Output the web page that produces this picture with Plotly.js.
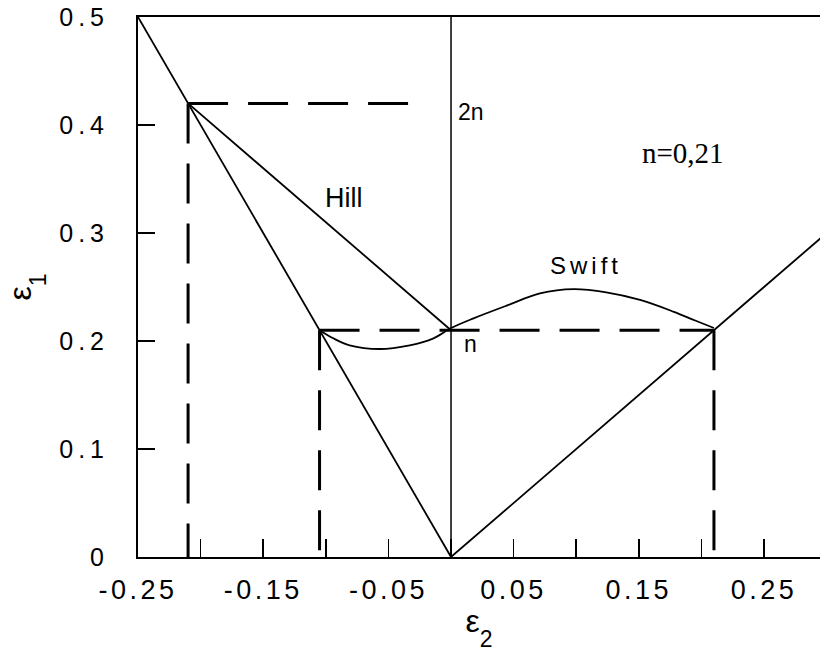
<!DOCTYPE html>
<html>
<head>
<meta charset="utf-8">
<script src="https://cdn.plot.ly/plotly-3.0.1.min.js"></script>
<style>
  html, body { margin: 0; padding: 0; background: #fff; overflow: hidden; }
  #chart { width: 820px; height: 652px; }
  .xtick text { letter-spacing: 3.5px; }
  .ytick text { letter-spacing: 5px; }
  .annotation[data-index="1"] text { letter-spacing: 4px; }
</style>
</head>
<body>
<div id="chart"></div>
<script>
// ---- data ----
const xTickVals = [-0.25, -0.15, -0.05, 0.05, 0.15, 0.25];
const xTickText = ['-0.25', '-0.15', '-0.05', '0.05', '0.15', '0.25'];
const xMinorTickVals = [-0.2, -0.1, 0, 0.1, 0.2];
const yTickVals = [0, 0.1, 0.2, 0.3, 0.4, 0.5];
const yTickText = ['0', '0.1', '0.2', '0.3', '0.4', '0.5'];
const xTitle = 'ε<span style="font-size:23px;baseline-shift:-15px">2</span>';
const yTitle = 'ε<span style="font-size:23px;baseline-shift:-15px">1</span>';

// limit line e1 = -2 e2 (left branch)
const leftX = [-0.25, 0];
const leftY = [0.5, 0];
// limit line e1 = e2 (right branch)
const rightX = [0, 0.30];
const rightY = [0, 0.30];
// Hill criterion
const hillX = [-0.21, 0];
const hillY = [0.42, 0.21];
// Swift criterion
const swiftX = [-0.105, -0.094, -0.081, -0.057, -0.033, -0.014, 0, 0.018, 0.045, 0.071, 0.098, 0.124, 0.151, 0.178, 0.195, 0.21];
const swiftY = [0.21, 0.2025, 0.196, 0.1926, 0.196, 0.2025, 0.212, 0.221, 0.233, 0.244, 0.248, 0.245, 0.238, 0.227, 0.219, 0.212];
// e2 = 0 line
const zeroX = [0, 0];
const zeroY = [0, 0.5];
// dashed guide lines
const guide2nX = [-0.21, -0.024];
const guide2nY = [0.42, 0.42];
const guide2nVX = [-0.21, -0.21];
const guide2nVY = [0.42, 0];
const guideNX = [-0.105, 0.21];
const guideNY = [0.21, 0.21];
const guideNLeftVX = [-0.105, -0.105];
const guideNLeftVY = [0.21, 0];
const guideNRightVX = [0.21, 0.21];
const guideNRightVY = [0.21, 0];

// labels
const labelText = ['Hill', 'Swift', '2n', 'n', 'n=0,21'];
const labelX = [-0.0855, 0.108, 0.004, 0.009, 0.185];
const labelY = [0.332, 0.270, 0.412, 0.197, 0.374];

// ---- drawing ----
const solid = {color: '#000', width: 1.8};
const dashed = {color: '#000', width: 3, dash: '40px,20px'};
function tr(x, y, line) {
  return {x: x, y: y, type: 'scatter', mode: 'lines', line: line, hoverinfo: 'skip', showlegend: false};
}
const swiftLine = Object.assign({}, solid, {shape: 'spline', smoothing: 1});

const data = [
  tr(zeroX, zeroY, {color: '#000', width: 1.5}),
  tr(leftX, leftY, solid),
  tr(rightX, rightY, solid),
  tr(hillX, hillY, solid),
  tr(swiftX, swiftY, swiftLine),
  tr(guide2nX, guide2nY, dashed),
  tr(guide2nVX, guide2nVY, dashed),
  tr(guideNX, guideNY, dashed),
  tr(guideNLeftVX, guideNLeftVY, dashed),
  tr(guideNRightVX, guideNRightVY, dashed)
];

const sans = 'Liberation Sans, Arial, sans-serif';
const annFonts = [
  {family: sans, size: 27, color: '#000'},
  {family: sans, size: 24, color: '#000'},
  {family: sans, size: 23, color: '#000'},
  {family: sans, size: 23, color: '#000'},
  {family: 'Liberation Serif, Times New Roman, serif', size: 29, color: '#000'}
];
const annAnchor = ['center', 'center', 'left', 'left', 'center'];
const annotations = labelText.map((t, i) => ({
  x: labelX[i], y: labelY[i], xref: 'x', yref: 'y', text: t, showarrow: false,
  xanchor: annAnchor[i], yanchor: 'middle', font: annFonts[i]
}));

const titleFont = {family: sans, size: 32, color: '#000'};

const layout = {
  width: 820, height: 652,
  margin: {l: 138, r: 0, t: 17, b: 95},
  paper_bgcolor: '#fff', plot_bgcolor: '#fff',
  showlegend: false,
  xaxis: {
    range: [-0.25, 0.2947],
    tickmode: 'array', tickvals: xTickVals, ticktext: xTickText,
    ticks: 'inside', ticklen: 18, tickwidth: 1.5, tickcolor: '#000',
    minor: {tickmode: 'array', tickvals: xMinorTickVals, ticks: 'inside', ticklen: 18, tickwidth: 1.5, tickcolor: '#000', showgrid: false},
    showgrid: false, zeroline: false,
    showline: true, linecolor: '#000', linewidth: 2, mirror: true,
    tickfont: {family: sans, size: 27, color: '#000'},
    ticklabelstandoff: 8,
    title: {text: xTitle, font: titleFont, standoff: 4}
  },
  yaxis: {
    range: [0, 0.5],
    tickmode: 'array', tickvals: yTickVals, ticktext: yTickText,
    ticks: 'inside', ticklen: 17, tickwidth: 1.5, tickcolor: '#000',
    showgrid: false, zeroline: false,
    showline: true, linecolor: '#000', linewidth: 2, mirror: false,
    tickfont: {family: sans, size: 25, color: '#000'},
    ticklabelstandoff: 22,
    title: {text: yTitle, font: titleFont, standoff: 18}
  },
  annotations: annotations
};

Plotly.newPlot('chart', data, layout, {displayModeBar: false, staticPlot: true});
</script>
</body>
</html>
